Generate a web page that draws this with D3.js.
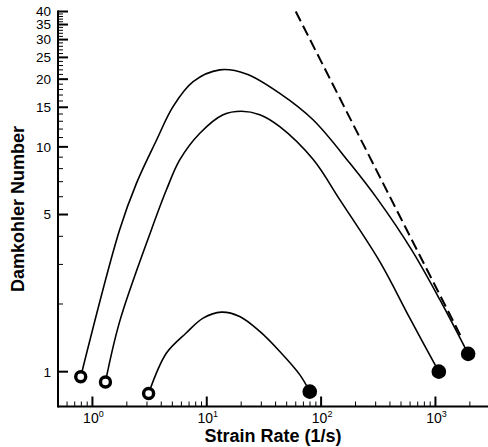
<!DOCTYPE html>
<html>
<head>
<meta charset="utf-8">
<script src="https://cdn.jsdelivr.net/npm/d3@7"></script>
<style>
    body { margin: 0; background: #fff; }
    svg { display: block; }
    text { font-family: Arial, "Liberation Sans", sans-serif; fill: #000; }
</style>
</head>
<body>
<div id="chart"></div>
<script>
// strain rate (1/s), Damkohler number
const curve1 = [[0.79, 0.95], [1.73, 4.28], [2.43, 6.9], [3.63, 10.7], [5.07, 15.1], [7.6, 19.5],
    [13, 22.0], [22.2, 21.1], [43.5, 17.3], [85, 13.2], [178, 8.47], [315, 5.81], [617, 3.49],
    [1093, 2.09], [1932, 1.2]];
const curve2 = [[1.3, 0.90], [1.73, 1.67], [3.28, 4.28], [4.44, 6.44], [5.8, 8.75], [8.7, 11.5],
    [13.9, 13.9], [20.1, 14.4], [29.1, 13.9], [43.5, 12.3], [85, 8.8], [146, 5.81], [327, 3.08],
    [597, 1.73], [1070, 1.0]];
const curve3 = [[3.1, 0.80], [4.44, 1.21], [6.64, 1.49], [9.29, 1.73], [13.4, 1.84], [19.4, 1.76],
    [29.1, 1.51], [43.5, 1.23], [65, 0.97], [79.6, 0.815]];
const dashedLine = [[60, 40], [1700, 1.41]];

const xMajorTicks = [1, 10, 100, 1000];
const xTickExponents = ['0', '1', '2', '3'];
const yMajorTicks = [1, 5, 10, 15, 20, 25, 30, 35, 40];

const width = 488;
const height = 447;
const margin = { top: 11.5, right: -2, bottom: 40.5, left: 58 };

const svg = d3.select('#chart').append('svg')
    .attr('width', width)
    .attr('height', height);

const x = d3.scaleLog()
    .domain([0.5, 3000])
    .range([margin.left, width - margin.right]);

const y = d3.scaleLog()
    .domain([0.7, 40])
    .range([height - margin.bottom, margin.top]);

// minor ticks: every integer step inside each decade
const xMinorTicks = [];
[0.1, 1, 10, 100, 1000].forEach(d => {
    for (let k = 2; k <= 9; k++) {
        const v = d * k;
        if (v >= 0.5 && v <= 3000 && !xMajorTicks.includes(v)) xMinorTicks.push(v);
    }
});
const yMinorTicks = [2, 3, 4, 6, 7, 8, 9].concat(d3.range(11, 40).filter(v => !yMajorTicks.includes(v)));

const line = d3.line()
    .x(d => x(d[0]))
    .y(d => y(d[1]))
    .curve(d3.curveCatmullRom.alpha(0.5));

[curve1, curve2, curve3].forEach(c => {
    svg.append('path')
        .datum(c)
        .attr('d', line)
        .attr('fill', 'none')
        .attr('stroke', '#000')
        .attr('stroke-width', 1.6);
});

svg.append('path')
    .datum(dashedLine)
    .attr('d', d3.line().x(d => x(d[0])).y(d => y(d[1])))
    .attr('fill', 'none')
    .attr('stroke', '#000')
    .attr('stroke-width', 2)
    .attr('stroke-dasharray', '11,5');

// open circle at the start, filled circle at the end
[curve1, curve2, curve3].forEach(c => {
    const first = c[0];
    const last = c[c.length - 1];
    svg.append('circle')
        .attr('cx', x(first[0]))
        .attr('cy', y(first[1]))
        .attr('r', 5)
        .attr('fill', '#fff')
        .attr('stroke', '#000')
        .attr('stroke-width', 3.4);
    svg.append('circle')
        .attr('cx', x(last[0]))
        .attr('cy', y(last[1]))
        .attr('r', 7.3)
        .attr('fill', '#000');
});

// axes
const x0 = margin.left;
const yBase = height - margin.bottom;

svg.append('line')
    .attr('x1', x0).attr('x2', width)
    .attr('y1', yBase).attr('y2', yBase)
    .attr('stroke', '#000').attr('stroke-width', 2);
svg.append('line')
    .attr('x1', x0).attr('x2', x0)
    .attr('y1', margin.top - 1).attr('y2', yBase + 1)
    .attr('stroke', '#000').attr('stroke-width', 2);

svg.selectAll('.xminor')
    .data(xMinorTicks)
    .enter().append('line')
    .attr('x1', d => x(d)).attr('x2', d => x(d))
    .attr('y1', yBase).attr('y2', yBase - 5)
    .attr('stroke', '#000').attr('stroke-width', 1);

svg.selectAll('.xmajor')
    .data(xMajorTicks)
    .enter().append('line')
    .attr('x1', d => x(d)).attr('x2', d => x(d))
    .attr('y1', yBase).attr('y2', yBase - 10)
    .attr('stroke', '#000').attr('stroke-width', 2);

const xLabels = svg.selectAll('.xlabel')
    .data(xMajorTicks)
    .enter().append('text')
    .attr('x', d => x(d) + 1)
    .attr('y', yBase + 16)
    .attr('text-anchor', 'middle')
    .style('font-size', '14px');
xLabels.append('tspan').text('10');
xLabels.append('tspan')
    .attr('dy', -6)
    .style('font-size', '9px')
    .text((d, i) => xTickExponents[i]);

svg.selectAll('.yminor')
    .data(yMinorTicks)
    .enter().append('line')
    .attr('x1', x0).attr('x2', x0 + 5)
    .attr('y1', d => y(d)).attr('y2', d => y(d))
    .attr('stroke', '#000').attr('stroke-width', 1);

svg.selectAll('.ymajor')
    .data(yMajorTicks)
    .enter().append('line')
    .attr('x1', x0).attr('x2', x0 + 10)
    .attr('y1', d => y(d)).attr('y2', d => y(d))
    .attr('stroke', '#000').attr('stroke-width', 2);

svg.selectAll('.ylabel')
    .data(yMajorTicks)
    .enter().append('text')
    .attr('x', x0 - 7)
    .attr('y', d => y(d))
    .attr('dy', '0.36em')
    .attr('text-anchor', 'end')
    .style('font-size', '13.5px')
    .text(d => d);

svg.append('text')
    .attr('x', (x0 + width) / 2)
    .attr('y', 442)
    .attr('text-anchor', 'middle')
    .style('font-size', '18px')
    .style('font-weight', 'bold')
    .text('Strain Rate (1/s)');

svg.append('text')
    .attr('transform', `translate(24, ${(margin.top + yBase) / 2}) rotate(-90)`)
    .attr('text-anchor', 'middle')
    .style('font-size', '18px')
    .style('font-weight', 'bold')
    .text('Damkohler Number');
</script>
</body>
</html>
